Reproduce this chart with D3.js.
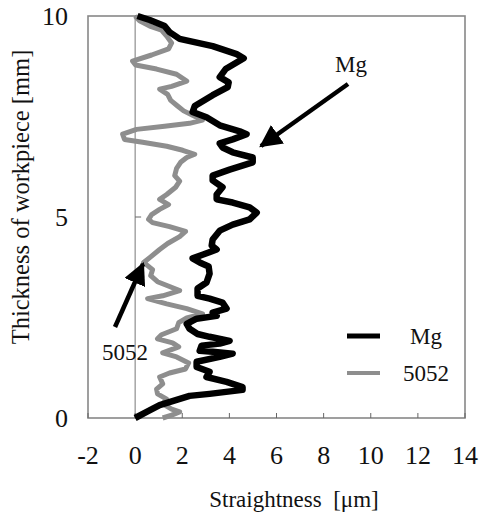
<!DOCTYPE html>
<html>
<head>
<meta charset="utf-8">
<script src="https://cdn.jsdelivr.net/npm/d3@7"></script>
<style>
  body { margin: 0; background: #fff; }
</style>
</head>
<body>
<svg id="chart" width="483" height="513"></svg>
<script>
  // --- data ---
  const xTicks = [-2, 0, 2, 4, 6, 8, 10, 12, 14];
  const yTicks = [0, 5, 10];

  // Mg: straightness [um] vs thickness [mm]
  const mgX = [0.1, 0.62, 1.25, 1.46, 1.89, 3.29, 4.31, 4.61, 4.27, 3.84, 3.59, 3.97, 3.93, 3.29, 2.53, 2.44,
    3.03, 3.59, 4.44, 4.73, 4.14, 3.59, 3.71, 4.14, 4.99, 4.99, 4.01, 3.29, 3.29, 3.71, 3.46, 3.46,
    4.14, 4.86, 5.16, 4.86, 4.14, 3.59, 3.29, 3.25, 3.46, 2.86, 2.44, 2.74, 3.12, 3.16, 3.03, 2.65,
    2.65, 3.16, 3.71, 3.88, 3.29, 3.46, 2.61, 2.19, 2.31, 2.65, 3.16, 4.01, 3.59, 2.82, 2.74, 3.29,
    4.14, 3.59, 2.61, 2.61, 3.16, 3.03, 3.88, 4.56, 4.56, 3.16, 2.31, 1.76, 1.04, 0.49, 0.0];
  const mgY = [10.0, 9.9, 9.75, 9.6, 9.43, 9.25, 9.05, 8.95, 8.83, 8.68, 8.48, 8.35, 8.23, 8.03, 7.76, 7.61,
    7.48, 7.28, 7.13, 7.06, 6.93, 6.83, 6.73, 6.61, 6.48, 6.36, 6.18, 6.03, 5.91, 5.74, 5.56, 5.44,
    5.36, 5.24, 5.11, 4.94, 4.81, 4.66, 4.44, 4.29, 4.19, 4.06, 3.97, 3.87, 3.77, 3.59, 3.37, 3.22,
    3.04, 2.97, 2.87, 2.72, 2.62, 2.54, 2.47, 2.34, 2.22, 2.09, 2.02, 1.92, 1.85, 1.8, 1.67, 1.65,
    1.6, 1.52, 1.4, 1.27, 1.15, 1.02, 0.9, 0.77, 0.7, 0.6, 0.55, 0.45, 0.32, 0.15, 0.0];

  // 5052 aluminium
  const alX = [0.0, 0.19, 0.62, 1.12, 1.34, 1.55, 1.42, 0.7, -0.11, 0.02, 0.91, 1.76, 2.19, 1.55, 1.04, 1.38,
    1.51, 1.8, 2.06, 2.44, 2.86, 2.31, 1.25, 0.06, -0.53, -0.45, 0.32, 1.34, 2.02, 2.53, 2.19, 1.93,
    1.76, 1.68, 1.89, 1.72, 1.34, 1.04, 1.42, 1.04, 0.7, 0.57, 0.74, 1.46, 2.14, 1.89, 1.38, 1.04,
    0.62, 0.36, 0.53, 0.74, 0.66, 0.95, 1.46, 1.89, 1.17, 0.53, 1.34, 2.19, 2.86, 2.19, 1.85, 1.76,
    1.12, 0.95, 1.59, 1.85, 1.17, 1.76, 2.27, 2.14, 1.46, 1.04, 1.17, 0.91, 0.95, 1.34, 1.17, 1.55,
    1.89, 1.55, 1.17];
  const alY = [10.0, 9.88, 9.75, 9.65, 9.5, 9.33, 9.18, 9.03, 8.88, 8.78, 8.68, 8.55, 8.38, 8.25, 8.18, 8.05,
    7.9, 7.76, 7.64, 7.53, 7.41, 7.33, 7.26, 7.18, 7.06, 6.93, 6.86, 6.76, 6.66, 6.56, 6.48, 6.36,
    6.21, 6.03, 5.89, 5.74, 5.56, 5.44, 5.31, 5.19, 5.06, 4.94, 4.86, 4.76, 4.64, 4.51, 4.34, 4.19,
    3.99, 3.87, 3.79, 3.69, 3.54, 3.39, 3.27, 3.17, 3.04, 2.97, 2.84, 2.72, 2.59, 2.49, 2.37, 2.22,
    2.07, 1.97, 1.87, 1.77, 1.62, 1.52, 1.37, 1.22, 1.12, 1.02, 0.85, 0.72, 0.6, 0.47, 0.35, 0.22,
    0.15, 0.07, 0.0];

  const seriesNames = ["Mg", "5052"];
  const seriesColors = ["#000", "#8e8e8e"];
  const FONT = "'Liberation Serif', 'DejaVu Serif', serif";

  // --- layout ---
  const svg = d3.select("#chart");
  const plotL = 88, plotR = 465, plotT = 16, plotB = 418;

  const x = d3.scaleLinear().domain([-2, 14]).range([plotL, plotR]);
  const y = d3.scaleLinear().domain([0, 10]).range([plotB, plotT]);

  function label(g, px, py, txt, size, anchor) {
    return g.append("text")
      .attr("x", px).attr("y", py)
      .attr("text-anchor", anchor || "middle")
      .attr("font-family", FONT)
      .attr("font-size", size)
      .attr("fill", "#111")
      .text(txt);
  }

  // frame
  svg.append("rect")
    .attr("x", plotL).attr("y", plotT)
    .attr("width", plotR - plotL).attr("height", plotB - plotT)
    .attr("fill", "none").attr("stroke", "#888").attr("stroke-width", 1.6);

  // vertical axis at x = 0
  svg.append("line")
    .attr("x1", x(0)).attr("x2", x(0))
    .attr("y1", plotB).attr("y2", plotT)
    .attr("stroke", "#555").attr("stroke-width", 0.8);

  // x ticks (inside, upward) and labels
  const xAxis = svg.append("g");
  xTicks.forEach(t => {
    xAxis.append("line")
      .attr("x1", x(t)).attr("x2", x(t))
      .attr("y1", plotB).attr("y2", plotB - 5)
      .attr("stroke", "#666").attr("stroke-width", 1);
    label(xAxis, x(t), 464, t, 26);
  });

  // y ticks on the x=0 line, labels on the left
  const yAxis = svg.append("g");
  yTicks.forEach(t => {
    yAxis.append("line")
      .attr("x1", x(0)).attr("x2", x(0) + 6)
      .attr("y1", y(t)).attr("y2", y(t))
      .attr("stroke", "#666").attr("stroke-width", 1);
    label(yAxis, 68, y(t) + 9, t, 26, "end");
  });

  // axis titles
  label(svg, 294, 507, "Straightness  [\u03bcm]", 23).attr("xml:space", "preserve");
  label(svg, 0, 0, "Thickness of workpiece [mm]", 24.5)
    .attr("transform", "translate(29,197) rotate(-90)");

  // curves
  const line = d3.line().x(d => x(d[0])).y(d => y(d[1])).curve(d3.curveLinear);
  const alPts = alX.map((v, i) => [v, alY[i]]);
  const mgPts = mgX.map((v, i) => [v, mgY[i]]);

  const plot = svg.append("g");
  plot.append("path")
    .attr("d", line(alPts))
    .attr("fill", "none").attr("stroke", seriesColors[1])
    .attr("stroke-width", 5).attr("stroke-linejoin", "round");
  plot.append("path")
    .attr("d", line(mgPts))
    .attr("fill", "none").attr("stroke", seriesColors[0])
    .attr("stroke-width", 6.5).attr("stroke-linejoin", "round");

  // arrow marker
  svg.append("defs").append("marker")
    .attr("id", "arrow")
    .attr("viewBox", "0 0 10 10")
    .attr("refX", 9).attr("refY", 5)
    .attr("markerWidth", 5).attr("markerHeight", 5)
    .attr("markerUnits", "strokeWidth")
    .attr("orient", "auto")
    .append("path").attr("d", "M0,0 L10,5 L0,10 Z").attr("fill", "#000");

  // annotations
  svg.append("line")
    .attr("x1", 348).attr("y1", 84).attr("x2", 261).attr("y2", 146)
    .attr("stroke", "#000").attr("stroke-width", 4.5)
    .attr("marker-end", "url(#arrow)");
  label(svg, 351, 72, "Mg", 23);

  svg.append("line")
    .attr("x1", 115).attr("y1", 327).attr("x2", 143).attr("y2", 264)
    .attr("stroke", "#000").attr("stroke-width", 4.5)
    .attr("marker-end", "url(#arrow)");
  label(svg, 125, 360, "5052", 23);

  // legend
  const legend = svg.append("g");
  seriesNames.forEach((name, i) => {
    const ly = 336 + i * 37;
    legend.append("line")
      .attr("x1", 347).attr("x2", 380)
      .attr("y1", ly).attr("y2", ly)
      .attr("stroke", seriesColors[i]).attr("stroke-width", i === 0 ? 5 : 4);
    label(legend, 426, ly + 8, name, 23);
  });
</script>
</body>
</html>
